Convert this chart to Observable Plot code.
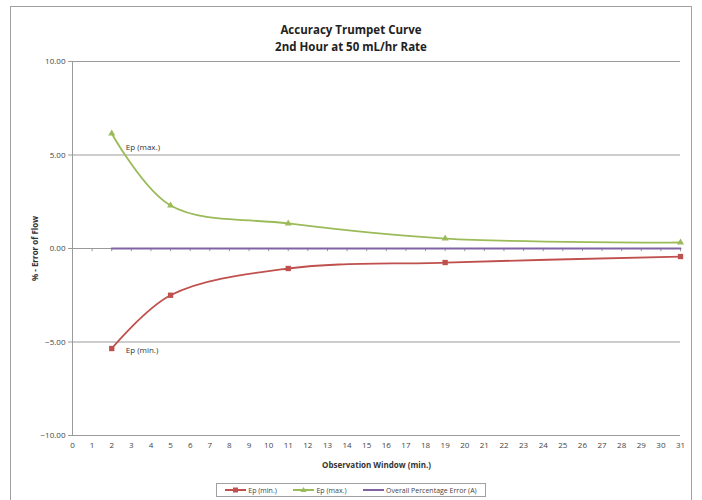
<!DOCTYPE html>
<html><head><meta charset="utf-8">
<script src="https://cdn.jsdelivr.net/npm/d3@7"></script>
<script src="https://cdn.jsdelivr.net/npm/@observablehq/plot@0.6"></script>
<style>
body{margin:0;background:#fff;font-family:"Open Sans",sans-serif;}
#frame{position:absolute;left:10px;top:6px;width:682px;height:500px;border:1px solid #a0a0a0;box-sizing:border-box;}
#title{position:absolute;left:0;top:21px;width:702px;text-align:center;font-size:11.5px;font-weight:bold;line-height:17px;color:#222;}
#chart{position:absolute;left:0;top:50px;}
#legend{position:absolute;left:216px;top:483px;width:270px;height:14px;border:1px solid #a0a0a0;box-sizing:border-box;font-size:7px;color:#444;display:flex;align-items:center;justify-content:space-around;}
#legend span{display:flex;align-items:center;gap:2px;}
#chart svg g[aria-label="y-axis label"] text, #chart svg g[aria-label="x-axis label"] text{font-weight:bold;fill:#333;}
</style></head>
<body>
<div id="frame"></div>
<div id="title">Accuracy Trumpet Curve<br>2nd Hour at 50 mL/hr Rate</div>
<div id="chart"></div>
<div id="legend"></div>
<script>
const minutes = [2, 5, 11, 19, 31];
const epMin = [-5.35, -2.5, -1.07, -0.75, -0.43];
const epMax = [6.15, 2.3, 1.34, 0.53, 0.32];
const overall = [0, 0, 0, 0, 0];
const xTicks = d3.range(0, 32);
const yTicks = [-10, -5, 0, 5, 10];
const seriesNames = ["Ep (min.)", "Ep (max.)", "Overall Percentage Error (A)"];
const colors = ["#C0504D", "#9BBB59", "#8064A2"];

const minData = minutes.map((m, i) => ({x: m, y: epMin[i]}));
const maxData = minutes.map((m, i) => ({x: m, y: epMax[i]}));
const ovData = minutes.map((m, i) => ({x: m, y: overall[i]}));

const plot = Plot.plot({
  width: 702, height: 425,
  marginLeft: 72, marginRight: 22, marginTop: 11, marginBottom: 40,
  style: {fontFamily: "Open Sans, sans-serif", fontSize: "8px", color: "#444", background: "transparent"},
  x: {domain: [0, 31]},
  y: {domain: [-10, 10]},
  marks: [
    Plot.ruleY(yTicks, {stroke: "#9a9a9a", strokeWidth: 1}),
    Plot.ruleX([0], {stroke: "#9a9a9a"}),
    Plot.ruleX(xTicks, {x: d => d, y1: 0, y2: -0.17, stroke: "#9a9a9a"}),
    Plot.axisY({ticks: yTicks, tickFormat: d3.format(".2f"), tickSize: 4, stroke: "#9a9a9a", tickPadding: 3, label: "% - Error of Flow", labelAnchor: "center", labelArrow: "none", labelOffset: 40, fontSize: 8}),
    Plot.axisX({ticks: xTicks, tickFormat: d => d, tickSize: 0, tickPadding: 7, label: "Observation Window (min.)", labelAnchor: "center", labelArrow: "none", labelOffset: 32, fontSize: 8}),
    Plot.line(ovData, {x: "x", y: "y", stroke: colors[2], strokeWidth: 2}),
    Plot.line(maxData, {x: "x", y: "y", stroke: colors[1], strokeWidth: 1.8, curve: "catmull-rom"}),
    Plot.dot(maxData, {x: "x", y: "y", symbol: "triangle", fill: colors[1], r: 2.6}),
    Plot.line(minData, {x: "x", y: "y", stroke: colors[0], strokeWidth: 1.8, curve: "catmull-rom"}),
    Plot.dot(minData, {x: "x", y: "y", symbol: "square", fill: colors[0], r: 3}),
    Plot.text([maxData[0]], {x: "x", y: "y", text: () => "Ep (max.)", dx: 14, dy: 14, textAnchor: "start", fontSize: 8, fill: "#333"}),
    Plot.text([minData[0]], {x: "x", y: "y", text: () => "Ep (min.)", dx: 14, dy: 2, textAnchor: "start", fontSize: 8, fill: "#333"})
  ]
});
document.getElementById("chart").appendChild(plot);

const leg = document.getElementById("legend");
const syms = ["square", "triangle", null];
seriesNames.forEach((n, i) => {
  const s = document.createElement("span");
  let mk = "";
  if (syms[i] === "square") mk = `<rect x="8" y="2.5" width="5" height="5" fill="${colors[i]}"/>`;
  if (syms[i] === "triangle") mk = `<path d="M10.5 2 L13.5 7 L7.5 7 Z" fill="${colors[i]}"/>`;
  s.innerHTML = `<svg width="21" height="10"><line x1="0" x2="21" y1="5" y2="5" stroke="${colors[i]}" stroke-width="2"/>${mk}</svg>${n}`;
  leg.appendChild(s);
});
</script>
</body></html>
